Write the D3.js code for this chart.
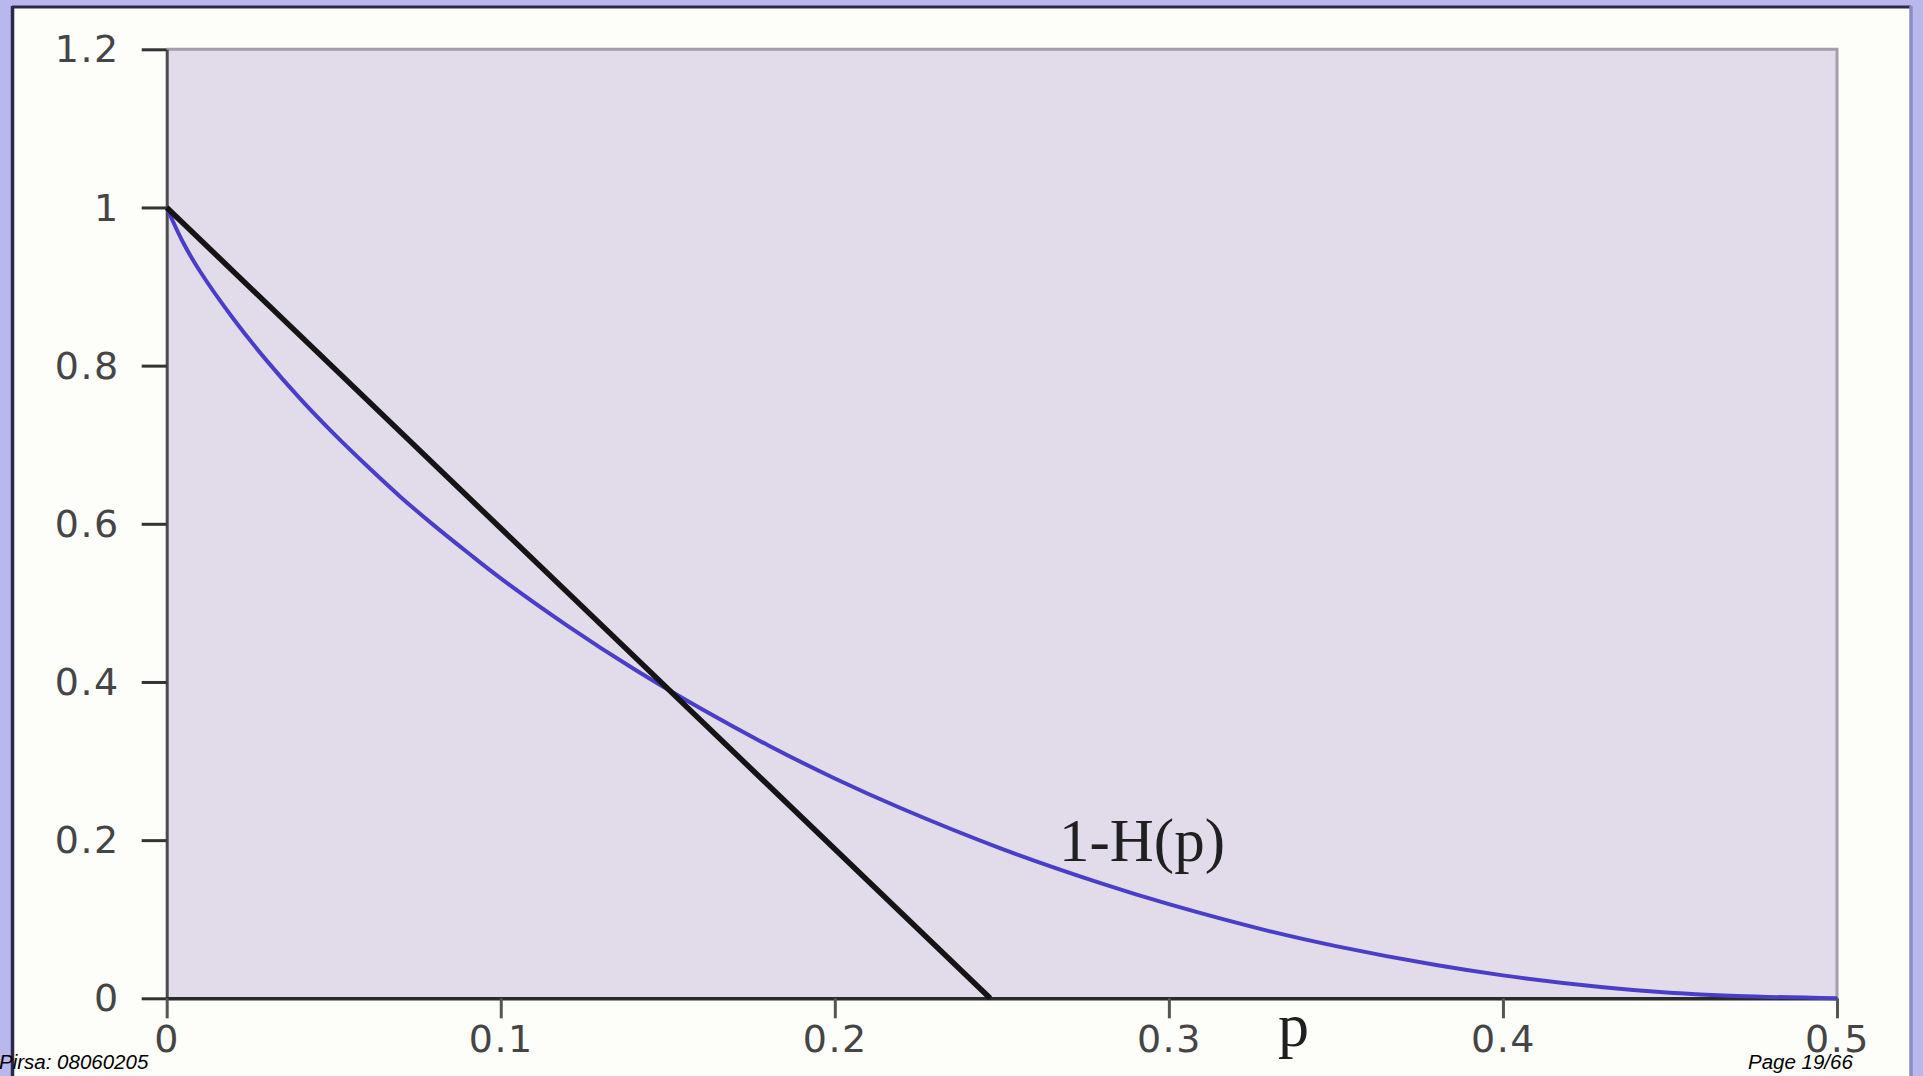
<!DOCTYPE html>
<html>
<head>
<meta charset="utf-8">
<script src="https://cdn.jsdelivr.net/npm/d3@7"></script>
<style>
  html, body { margin: 0; padding: 0; background: #b8b8ee; }
  svg { display: block; }
</style>
</head>
<body>
<script>
// ---- data ----
const xTicks = [0, 0.1, 0.2, 0.3, 0.4, 0.5];
const yTicks = [0, 0.2, 0.4, 0.6, 0.8, 1, 1.2];
const curveP = [0, 0.005, 0.01, 0.02, 0.03, 0.04, 0.05, 0.06, 0.07, 0.08, 0.09, 0.10, 0.12, 0.14, 0.16, 0.18, 0.20, 0.22, 0.25, 0.28, 0.30, 0.33, 0.35, 0.38, 0.40, 0.43, 0.45, 0.47, 0.50];
const curveV = [1, 0.955, 0.919, 0.859, 0.806, 0.758, 0.714, 0.673, 0.634, 0.598, 0.564, 0.531, 0.471, 0.416, 0.366, 0.320, 0.278, 0.240, 0.189, 0.145, 0.119, 0.085, 0.066, 0.042, 0.029, 0.014, 0.007, 0.003, 0];
const lineP = [0, 0.2465];
const lineV = [1, 0];
const curveLabel = "1-H(p)";
const xLabel = "p";
const footerLeft = "Pirsa: 08060205";
const footerRight = "Page 19/66";

(function () {
const W = 1923, H = 1076;
const svg = d3.select("body").append("svg").attr("width", W).attr("height", H);

// outer slide background & frame
svg.append("rect").attr("x", 0).attr("y", 0).attr("width", W).attr("height", H).attr("fill", "#b8b8ee");
svg.append("rect").attr("x", 13).attr("y", 7).attr("width", 1897).attr("height", H).attr("fill", "#fdfdf9");
svg.append("line").attr("x1", 12).attr("x2", 1911).attr("y1", 7).attr("y2", 7).attr("stroke", "#2a2a4c").attr("stroke-width", 3);
svg.append("line").attr("x1", 12.5).attr("x2", 12.5).attr("y1", 6).attr("y2", H).attr("stroke", "#2a2a4c").attr("stroke-width", 3.5);
svg.append("line").attr("x1", 1911).attr("x2", 1911).attr("y1", 6).attr("y2", H).attr("stroke", "#8c8cc0").attr("stroke-width", 3.5);

const pl = 166.7, pr = 1837, pt = 49.3, pb = 998.3;
const x = d3.scaleLinear().domain([0, 0.5]).range([pl, pr]);
const y = d3.scaleLinear().domain([0, 1.2]).range([pb, pt]);

// plot area
svg.append("rect").attr("x", pl).attr("y", pt).attr("width", pr - pl).attr("height", pb - pt).attr("fill", "#e2dbe9");
svg.append("path").attr("d", `M${pl},${pt}H${pr}V${pb}`).attr("fill", "none").attr("stroke", "#a49eac").attr("stroke-width", 3);

const fmt = d => String(+(+d).toFixed(1));

// y axis
const ga = svg.append("g").attr("transform", `translate(${pl},0)`)
  .call(d3.axisLeft(y).tickValues(yTicks).tickFormat(fmt).tickSize(25).tickPadding(22).tickSizeOuter(0));
ga.select(".domain").attr("stroke", "#4a4a4a").attr("stroke-width", 3);
ga.selectAll(".tick line").attr("stroke", "#333").attr("stroke-width", 3);
ga.selectAll(".tick text").attr("fill", "#454545").attr("font-family", "DejaVu Sans").attr("font-size", 38).attr("letter-spacing", 1.5).attr("dy", "0.33em");

// x axis
const gb = svg.append("g").attr("transform", `translate(0,${pb})`)
  .call(d3.axisBottom(x).tickValues(xTicks).tickFormat(fmt).tickSize(20).tickPadding(7).tickSizeOuter(0));
gb.select(".domain").attr("stroke", "#2a2a2a").attr("stroke-width", 3.5);
gb.selectAll(".tick line").attr("stroke", "#555").attr("stroke-width", 3);
gb.selectAll(".tick text").attr("fill", "#454545").attr("font-family", "DejaVu Sans").attr("font-size", 38).attr("letter-spacing", 1.5);

// blue curve
const curveData = curveP.map((p, i) => [p, curveV[i]]);
svg.append("path").datum(curveData)
  .attr("d", d3.line().x(d => x(d[0])).y(d => y(d[1])).curve(d3.curveCatmullRom))
  .attr("fill", "none").attr("stroke", "#4a3ec8").attr("stroke-width", 4);

// black line
const lineData = lineP.map((p, i) => [p, lineV[i]]);
svg.append("path").datum(lineData)
  .attr("d", d3.line().x(d => x(d[0])).y(d => y(d[1])))
  .attr("fill", "none").attr("stroke", "#141414").attr("stroke-width", 5.5);

// labels
svg.append("text").attr("x", 1059).attr("y", 861).text(curveLabel)
  .attr("font-family", "Liberation Serif").attr("font-size", 61).attr("fill", "#202020");
svg.append("text").attr("x", 1278).attr("y", 1046).text(xLabel)
  .attr("font-family", "Liberation Serif").attr("font-size", 62).attr("fill", "#202020");

// footer
svg.append("text").attr("x", -1).attr("y", 1069).text(footerLeft)
  .attr("font-family", "Liberation Sans").attr("font-style", "italic").attr("font-size", 20.5).attr("fill", "#000");
svg.append("text").attr("x", 1748).attr("y", 1069).text(footerRight)
  .attr("font-family", "Liberation Sans").attr("font-style", "italic").attr("font-size", 20.5).attr("fill", "#000");
})();
</script>
</body>
</html>
